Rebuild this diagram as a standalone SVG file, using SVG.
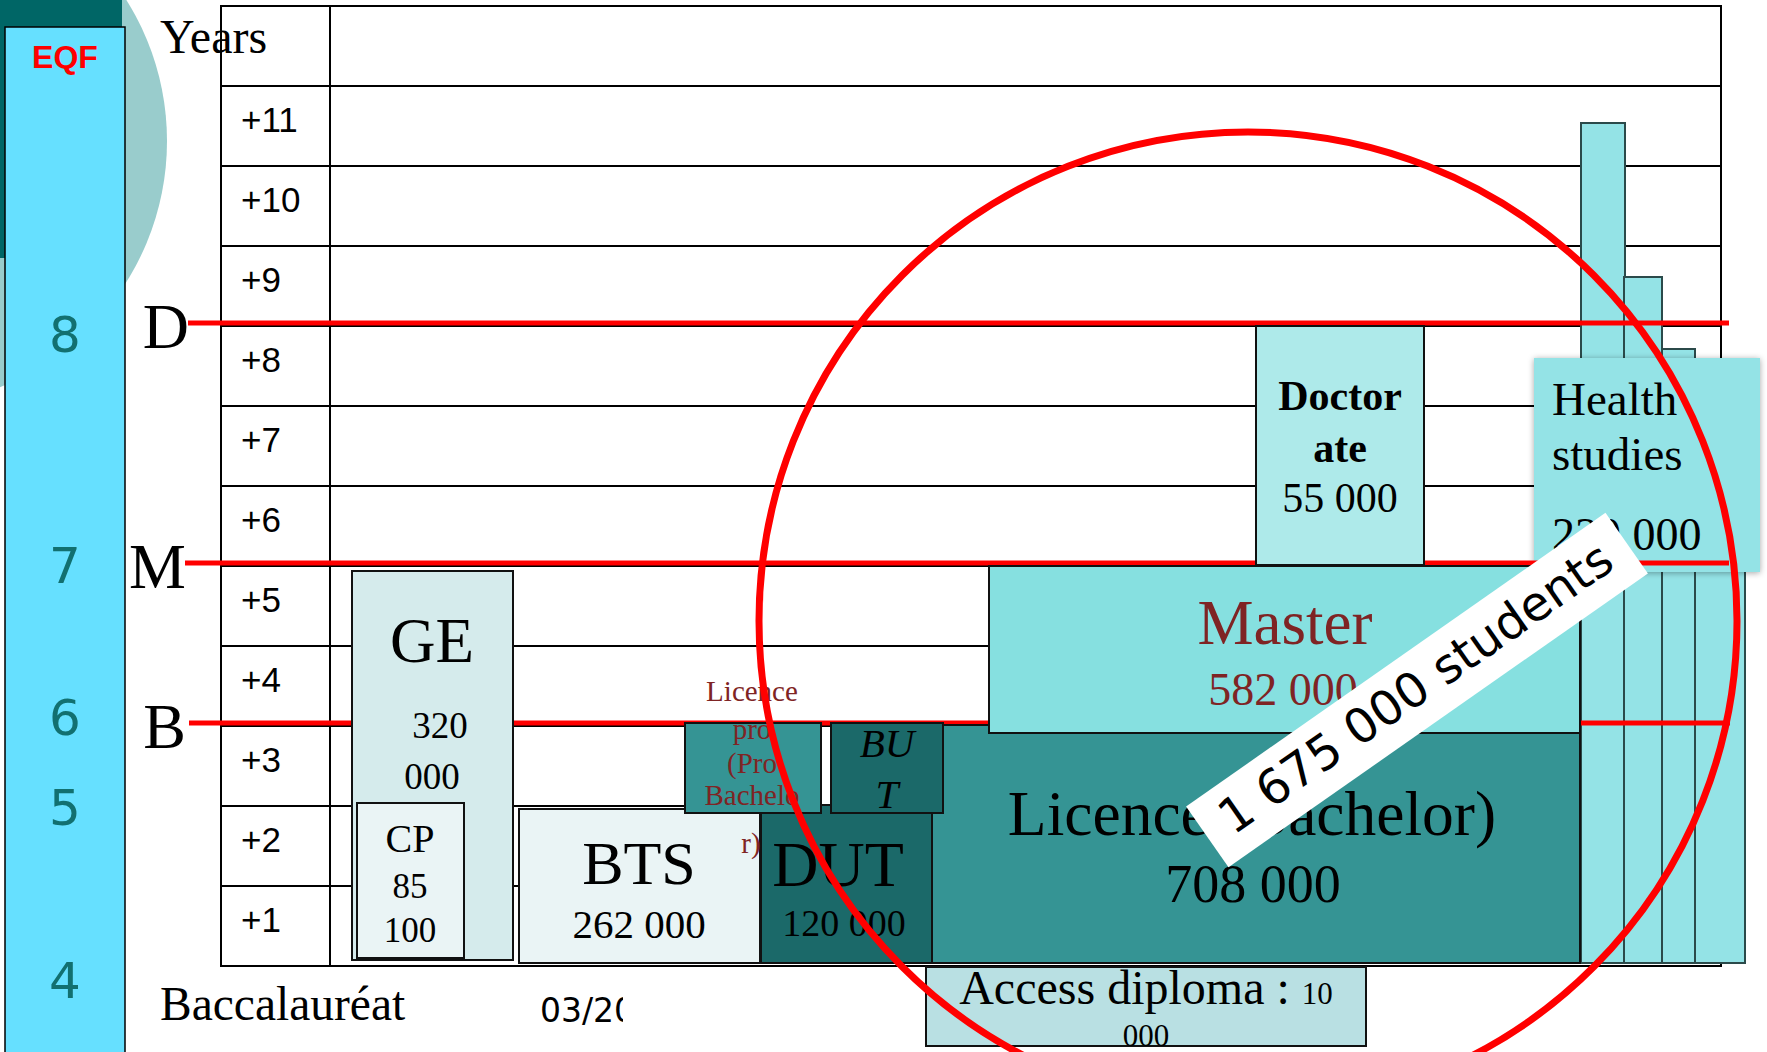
<svg xmlns="http://www.w3.org/2000/svg" width="1767" height="1052" viewBox="0 0 1767 1052">
<defs>
<style>
.serif{font-family:'Liberation Serif','Times New Roman',serif}
.sans{font-family:'Liberation Sans',Arial,sans-serif}
.dv{font-family:'DejaVu Sans',sans-serif}
.c{text-anchor:middle}
.grid{stroke:#000;stroke-width:2;fill:none}
.red{stroke:#FF0000;stroke-width:5;fill:none}
.box{stroke:#111;stroke-width:2}
.lvl{font-family:'DejaVu Sans',sans-serif;font-size:50px;fill:#127070;text-anchor:middle}
.yr{font-family:'Liberation Sans',Arial,sans-serif;font-size:35px;fill:#000}
.deg{font-family:'Liberation Serif','Times New Roman',serif;font-size:64px;text-anchor:end;fill:#000}
.bar{fill:#94E3E6;stroke:#2B4A4A;stroke-width:2}
.dred{fill:#7F2424}
</style>
<filter id="sh" x="-10%" y="-10%" width="120%" height="120%">
<feDropShadow dx="0" dy="1" stdDeviation="3" flood-color="#000" flood-opacity="0.35"/>
</filter>
<clipPath id="dateClip"><rect x="530" y="990" width="93" height="50"/></clipPath>
</defs>
<rect width="1767" height="1052" fill="#fff"/>

<g id="background">
<circle cx="-98" cy="141" r="265" fill="#99CCCC"/>
<rect x="0" y="0" width="122" height="258" fill="#006666"/>
</g>

<g id="eqf-column">
<rect x="5" y="27" width="120" height="1040" fill="#66E0FF" stroke="#000" stroke-width="1.5"/>
<text x="65" y="68" class="sans c" font-size="32" font-weight="bold" fill="#FF0000">EQF</text>
<text x="65" y="352" class="lvl">8</text>
<text x="65" y="583" class="lvl">7</text>
<text x="65" y="735" class="lvl">6</text>
<text x="65" y="825" class="lvl">5</text>
<text x="65" y="998" class="lvl">4</text>
</g>

<g id="table">
<rect x="221" y="6" width="1500" height="960" class="grid"/>
<line x1="330" y1="6" x2="330" y2="966" class="grid"/>
<path class="grid" d="M221 86H1721M221 166H1721M221 246H1721M221 326H1721M221 406H1721M221 486H1721M221 566H1721M221 646H1721M221 726H1721M221 806H1721M221 886H1721"/>
<text x="160" y="53" class="serif" font-size="48">Years</text>
<text x="241" y="132" class="yr">+11</text>
<text x="241" y="212" class="yr">+10</text>
<text x="241" y="292" class="yr">+9</text>
<text x="241" y="372" class="yr">+8</text>
<text x="241" y="452" class="yr">+7</text>
<text x="241" y="532" class="yr">+6</text>
<text x="241" y="612" class="yr">+5</text>
<text x="241" y="692" class="yr">+4</text>
<text x="241" y="772" class="yr">+3</text>
<text x="241" y="852" class="yr">+2</text>
<text x="241" y="932" class="yr">+1</text>
<text x="160" y="1020" class="serif" font-size="47.5">Baccalauréat</text>
<text x="540" y="1022" class="dv" font-size="33" clip-path="url(#dateClip)">03/20</text>
</g>

<g id="health">
<rect x="1581" y="123" width="44" height="840" class="bar"/>
<rect x="1624" y="277" width="38" height="686" class="bar"/>
<rect x="1662" y="349" width="33" height="614" class="bar"/>
<rect x="1695" y="450" width="50" height="513" class="bar"/>
<rect x="1534" y="358" width="226" height="214" fill="#94E3E6" filter="url(#sh)"/>
<text x="1552" y="415" class="serif" font-size="47">Health</text>
<text x="1552" y="470" class="serif" font-size="47">studies</text>
<text x="1552" y="550" class="serif" font-size="46">230 000</text>
</g>

<g id="level-lines">
<line x1="188" y1="323" x2="1729" y2="323" class="red"/>
<line x1="185" y1="563" x2="1729" y2="563" class="red"/>
<line x1="189" y1="723" x2="1730" y2="723" class="red"/>
<text x="189" y="348" class="deg">D</text>
<text x="186" y="588" class="deg">M</text>
<text x="186" y="748" class="deg">B</text>
</g>

<g id="ge">
<rect x="352" y="571" width="161" height="389" fill="#D5EBEC" class="box"/>
<text x="432" y="662" class="serif c" font-size="63">GE</text>
<text x="440" y="738" class="serif c" font-size="37">320</text>
<text x="432" y="789" class="serif c" font-size="37">000</text>
</g>
<g id="cp">
<rect x="357" y="803" width="107" height="155" fill="#EAF4F5" class="box"/>
<text x="410" y="852" class="serif c" font-size="40">CP</text>
<text x="410" y="898" class="serif c" font-size="35">85</text>
<text x="410" y="942" class="serif c" font-size="35">100</text>
</g>
<g id="bts">
<rect x="519" y="809" width="241" height="154" fill="#EAF4F5" class="box"/>
<text x="639" y="884" class="serif c" font-size="62">BTS</text>
<text x="639" y="938" class="serif c" font-size="41">262 000</text>
</g>
<g id="dut">
<rect x="761" y="805" width="171" height="158" fill="#1B6969" class="box"/>
<text x="838" y="886" class="serif c" font-size="64">DUT</text>
<text x="844" y="936" class="serif c" font-size="38">120 000</text>
</g>
<g id="licence">
<rect x="932" y="725" width="648" height="238" fill="#359494" class="box"/>
<text x="1252" y="835" class="serif c" font-size="63.5">Licence (Bachelor)</text>
<text x="1253" y="902" class="serif c" font-size="54">708 000</text>
</g>
<g id="master">
<rect x="989" y="566" width="591" height="167" fill="#86E0E0" class="box"/>
<text x="1285" y="644" class="serif c dred" font-size="63">Master</text>
<text x="1283" y="705" class="serif c dred" font-size="46">582 000</text>
</g>
<g id="doctorate">
<rect x="1256" y="326" width="168" height="239" fill="#AEEAEA" class="box"/>
<text x="1340" y="410" class="serif c" font-size="42" font-weight="bold">Doctor</text>
<text x="1340" y="462" class="serif c" font-size="42" font-weight="bold">ate</text>
<text x="1340" y="512" class="serif c" font-size="42">55 000</text>
</g>
<g id="licence-pro">
<rect x="685" y="723" width="136" height="90" fill="#359494" class="box"/>
<text class="serif c dred" font-size="29"><tspan x="752" y="701">Licence</tspan><tspan x="752" y="739">pro</tspan><tspan x="752" y="773">(Pro</tspan><tspan x="752" y="805">Bachelo</tspan><tspan x="751" y="853">r)</tspan></text>
</g>
<g id="but">
<rect x="831" y="723" width="112" height="90" fill="#1B6969" class="box"/>
<text x="887" y="757" class="serif c" font-size="41" font-style="italic">BU</text>
<text x="887" y="808" class="serif c" font-size="41" font-style="italic">T</text>
</g>
<g id="access">
<rect x="926" y="967" width="440" height="79" fill="#B9E0E3" class="box"/>
<text x="1146" y="1004" class="serif c" font-size="48">Access diploma : <tspan font-size="31">10</tspan></text>
<text x="1146" y="1046" class="serif c" font-size="31">000</text>
</g>

<g id="highlight">
<circle cx="1248" cy="621" r="489" fill="none" stroke="#FF0000" stroke-width="7"/>
<g transform="translate(1417,690) rotate(-35)">
<rect x="-256" y="-37" width="512" height="74" fill="#fff"/>
<text x="0" y="14" class="dv c" font-size="48">1 675 000 students</text>
</g>
</g>
</svg>
